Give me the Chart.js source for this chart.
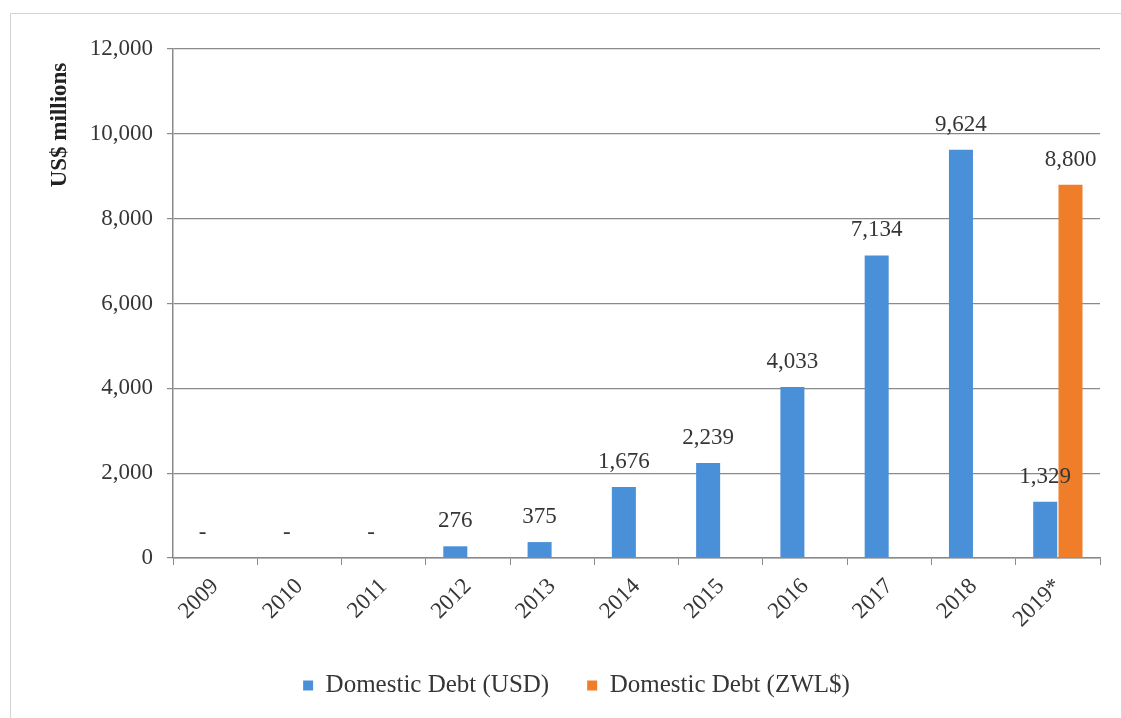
<!DOCTYPE html>
<html>
<head>
<meta charset="utf-8">
<title>Domestic Debt</title>
<script src="https://cdn.jsdelivr.net/npm/chart.js@4"></script>
<style>
  html, body { margin: 0; padding: 0; background: #fff; }
  #wrap { position: relative; width: 1121px; height: 718px; }
</style>
</head>
<body>
<div id="wrap"><canvas id="debtChart" width="1121" height="718"></canvas></div>
<script>
// Domestic debt stock, US$ millions
const years = ['2009', '2010', '2011', '2012', '2013', '2014', '2015', '2016', '2017', '2018', '2019*'];
const debtUSD = [0, 0, 0, 276, 375, 1676, 2239, 4033, 7134, 9624, 1329];
const debtZWL = [null, null, null, null, null, null, null, null, null, null, 8800];
const yTicks = [0, 2000, 4000, 6000, 8000, 10000, 12000];

const SERIF = '"Liberation Serif", "Times New Roman", serif';
const TEXT = '#363636';

// value labels over each bar, zero shown as a dash
const barLabels = {
    id: 'barLabels',
    afterLayout(chart) {
        // nudge the legend a little right of the canvas centre
        if (chart.legend) chart.legend.left += 30;
    },
    afterDatasetsDraw(chart) {
        const ctx = chart.ctx;
        ctx.save();
        ctx.font = '23px ' + SERIF;
        ctx.fillStyle = TEXT;
        ctx.textAlign = 'center';
        ctx.textBaseline = 'middle';
        chart.data.datasets.forEach((ds, i) => {
            const meta = chart.getDatasetMeta(i);
            meta.data.forEach((bar, j) => {
                const v = ds.data[j];
                if (v === null || v === undefined) return;
                const txt = v === 0 ? '-' : v.toLocaleString('en-US');
                ctx.fillText(txt, bar.x, bar.y - 25);
            });
        });
        ctx.restore();
    },
    afterDraw(chart) {
        const ctx = chart.ctx;
        ctx.save();
        // outer frame (top and left edges)
        ctx.strokeStyle = '#d4d4d4';
        ctx.lineWidth = 1;
        ctx.beginPath();
        ctx.moveTo(10.5, 718);
        ctx.lineTo(10.5, 13.5);
        ctx.lineTo(1121, 13.5);
        ctx.stroke();
        // y axis title
        ctx.translate(60, 125);
        ctx.rotate(-Math.PI / 2);
        ctx.font = 'bold 23px ' + SERIF;
        ctx.fillStyle = '#222';
        ctx.textAlign = 'center';
        ctx.textBaseline = 'middle';
        ctx.fillText('US$ millions', 0, 0);
        ctx.restore();
    }
};

new Chart(document.getElementById('debtChart'), {
    type: 'bar',
    data: {
        labels: years,
        datasets: [
            {
                label: 'Domestic Debt (USD)',
                data: debtUSD,
                backgroundColor: '#4a90d8',
                categoryPercentage: 0.6,
                barPercentage: 0.95
            },
            {
                label: 'Domestic Debt (ZWL$)',
                data: debtZWL,
                backgroundColor: '#f07d2a',
                categoryPercentage: 0.6,
                barPercentage: 0.95
            }
        ]
    },
    options: {
        responsive: false,
        animation: false,
        layout: {
            padding: { top: 49, left: 23, right: 21, bottom: 10 }
        },
        plugins: {
            legend: {
                position: 'bottom',
                labels: {
                    boxWidth: 10,
                    boxHeight: 10,
                    padding: 38,
                    color: TEXT,
                    font: { family: SERIF, size: 25 }
                }
            },
            tooltip: { enabled: false }
        },
        scales: {
            x: {
                grid: {
                    offset: true,
                    drawOnChartArea: false,
                    tickLength: 7,
                    color: '#8a8a8a'
                },
                border: { color: '#8a8a8a', width: 1.5 },
                ticks: {
                    color: TEXT,
                    font: { family: SERIF, size: 23 },
                    maxRotation: 45,
                    minRotation: 45,
                    padding: 8
                },
                afterFit(scale) { scale.height = 77; }
            },
            y: {
                min: 0,
                max: 12000,
                afterBuildTicks(scale) {
                    scale.ticks = yTicks.map(v => ({ value: v }));
                },
                grid: {
                    color: '#8a8a8a',
                    lineWidth: 1.2,
                    tickLength: 6
                },
                border: { color: '#8a8a8a', width: 1.5 },
                ticks: {
                    color: TEXT,
                    font: { family: SERIF, size: 23 },
                    padding: 14,
                    callback: v => v.toLocaleString('en-US')
                },
                afterFit(scale) { scale.width = 150; }
            }
        }
    },
    plugins: [barLabels]
});
</script>
</body>
</html>
